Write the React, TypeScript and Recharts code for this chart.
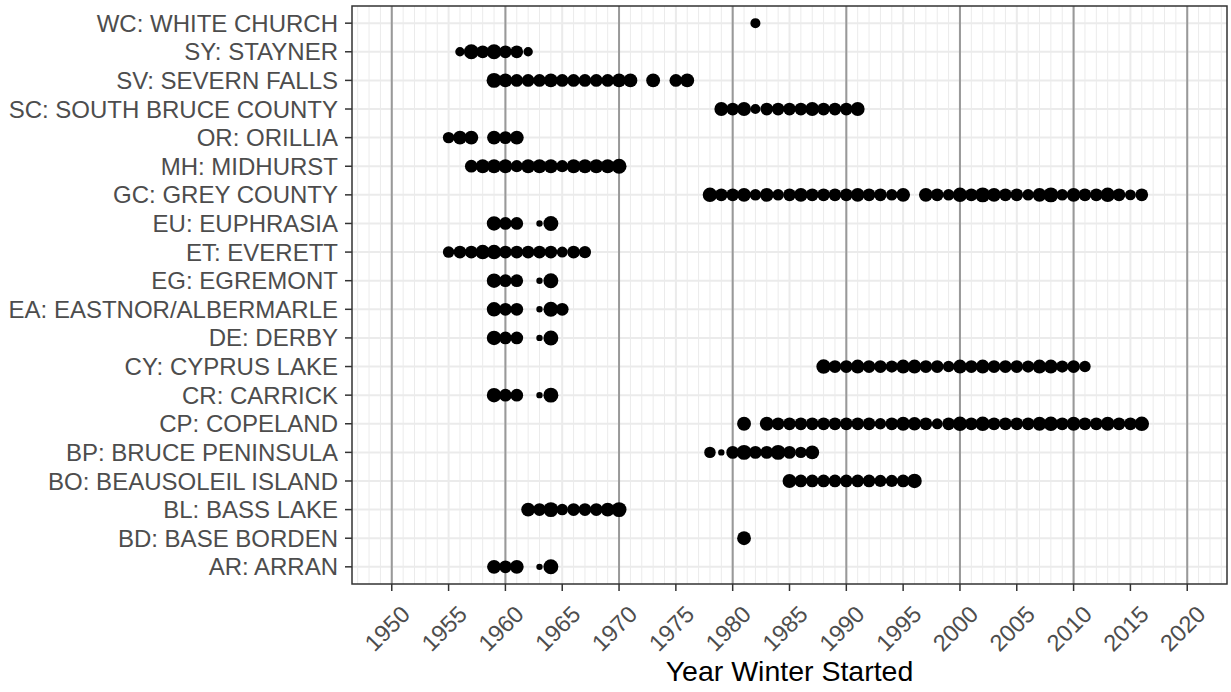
import React from 'react';
import { ScatterChart, Scatter, XAxis, YAxis, ZAxis, CartesianGrid, ReferenceArea, Label } from 'recharts';

// Sites, bottom to top
const SITE_LABELS = [
  'AR: ARRAN',
  'BD: BASE BORDEN',
  'BL: BASS LAKE',
  'BO: BEAUSOLEIL ISLAND',
  'BP: BRUCE PENINSULA',
  'CP: COPELAND',
  'CR: CARRICK',
  'CY: CYPRUS LAKE',
  'DE: DERBY',
  'EA: EASTNOR/ALBERMARLE',
  'EG: EGREMONT',
  'ET: EVERETT',
  'EU: EUPHRASIA',
  'GC: GREY COUNTY',
  'MH: MIDHURST',
  'OR: ORILLIA',
  'SC: SOUTH BRUCE COUNTY',
  'SV: SEVERN FALLS',
  'SY: STAYNER',
  'WC: WHITE CHURCH',
];

// [year winter started, relative point size]
const AR: [number, number][] = [[1959, 3.5], [1960, 3], [1961, 3.5], [1963, 1], [1964, 4]];
const BD: [number, number][] = [[1981, 3.5]];
const BL: [number, number][] = [[1962, 3.5], [1963, 3], [1964, 4], [1965, 2.5], [1966, 3], [1967, 3], [1968, 3], [1969, 3.5], [1970, 4]];
const BO: [number, number][] = [[1985, 3.5], [1986, 3], [1987, 3], [1988, 3], [1989, 3], [1990, 3], [1991, 3], [1992, 3], [1993, 2.8], [1994, 2.8], [1995, 3], [1996, 3.8]];
const BP: [number, number][] = [[1978, 2.5], [1979, 1], [1980, 3], [1981, 4], [1982, 3], [1983, 3], [1984, 4], [1985, 3], [1986, 2.5], [1987, 3.5]];
const CP: [number, number][] = [
  [1981, 3.5], [1983, 3.5], [1984, 3], [1985, 3], [1986, 3], [1987, 3], [1988, 3], [1989, 3], [1990, 3],
  [1991, 3], [1992, 3], [1993, 2.5], [1994, 3], [1995, 3.5], [1996, 3.3], [1997, 3], [1998, 2.3], [1999, 3],
  [2000, 3.8], [2001, 3], [2002, 3.8], [2003, 3], [2004, 3], [2005, 3], [2006, 3], [2007, 3.5], [2008, 3.8],
  [2009, 3], [2010, 3.5], [2011, 3], [2012, 3], [2013, 3.5], [2014, 3], [2015, 3], [2016, 3.8],
];
const CR: [number, number][] = [[1959, 3.8], [1960, 3], [1961, 3], [1963, 1], [1964, 4]];
const CY: [number, number][] = [
  [1988, 3.8], [1989, 3], [1990, 3], [1991, 3.5], [1992, 3], [1993, 3], [1994, 2.8], [1995, 3.5], [1996, 3.5],
  [1997, 3], [1998, 3], [1999, 2.5], [2000, 3.5], [2001, 3], [2002, 3.5], [2003, 3], [2004, 3], [2005, 3],
  [2006, 2.8], [2007, 3.5], [2008, 3.5], [2009, 2.8], [2010, 3], [2011, 2.5],
];
const DE: [number, number][] = [[1959, 3.8], [1960, 3], [1961, 3], [1963, 1], [1964, 4]];
const EA: [number, number][] = [[1959, 3.8], [1960, 3], [1961, 3], [1963, 1], [1964, 4], [1965, 3]];
const EG: [number, number][] = [[1959, 3.8], [1960, 3], [1961, 3], [1963, 1], [1964, 4]];
const ET: [number, number][] = [
  [1955, 2.5], [1956, 3], [1957, 3], [1958, 3.8], [1959, 3.8], [1960, 3], [1961, 3], [1962, 3], [1963, 3],
  [1964, 3], [1965, 2.3], [1966, 3], [1967, 2.8],
];
const EU: [number, number][] = [[1959, 3.8], [1960, 3], [1961, 3], [1963, 1], [1964, 4]];
const GC: [number, number][] = [
  [1978, 3.8], [1979, 3], [1980, 3], [1981, 3.5], [1982, 2.5], [1983, 3.5], [1984, 2.5], [1985, 3], [1986, 3.5],
  [1987, 3], [1988, 3], [1989, 3], [1990, 3], [1991, 3.5], [1992, 3], [1993, 3], [1994, 2.5], [1995, 3.5],
  [1997, 3.5], [1998, 3], [1999, 2.5], [2000, 3.8], [2001, 3], [2002, 4], [2003, 3.5], [2004, 3], [2005, 3],
  [2006, 2.5], [2007, 3.5], [2008, 4], [2009, 2.5], [2010, 3.5], [2011, 3], [2012, 3], [2013, 3.8], [2014, 3],
  [2015, 2.3], [2016, 3],
];
const MH: [number, number][] = [
  [1957, 3], [1958, 3.5], [1959, 3.5], [1960, 3.5], [1961, 2.8], [1962, 3.5], [1963, 3.5], [1964, 3.5],
  [1965, 2.8], [1966, 3.5], [1967, 3.5], [1968, 3.5], [1969, 3.5], [1970, 4],
];
const OR: [number, number][] = [[1955, 2.5], [1956, 3.5], [1957, 3.5], [1959, 3.5], [1960, 3], [1961, 3.5]];
const SC: [number, number][] = [
  [1979, 3.5], [1980, 3], [1981, 3.5], [1982, 2], [1983, 3], [1984, 3], [1985, 3], [1986, 3], [1987, 3.5],
  [1988, 3], [1989, 3], [1990, 3], [1991, 3.5],
];
const SV: [number, number][] = [
  [1959, 4], [1960, 3.5], [1961, 3], [1962, 3], [1963, 3], [1964, 3.5], [1965, 3], [1966, 3], [1967, 3],
  [1968, 3], [1969, 3], [1970, 3.5], [1971, 3.5], [1973, 3.5], [1975, 3], [1976, 3.5],
];
const SY: [number, number][] = [[1956, 1.8], [1957, 4], [1958, 3], [1959, 4], [1960, 3], [1961, 3], [1962, 1.8]];
const WC: [number, number][] = [[1982, 2]];

const SITE_POINTS = [AR, BD, BL, BO, BP, CP, CR, CY, DE, EA, EG, ET, EU, GC, MH, OR, SC, SV, SY, WC];

const X_TICKS = [1950, 1955, 1960, 1965, 1970, 1975, 1980, 1985, 1990, 1995, 2000, 2005, 2010, 2015, 2020];
const DECADES = [1950, 1960, 1970, 1980, 1990, 2000, 2010, 2020];
const X_DOMAIN: [number, number] = [1946.5, 2023.5];
const MINOR_YEARS: number[] = [];
for (let yr = 1947; yr <= 2023; yr++) MINOR_YEARS.push(yr);
const SITE_TICKS = SITE_LABELS.map((_, i) => i + 1);

const data = SITE_POINTS.flatMap((pts, i) => pts.map(([year, n]) => ({ year, site: i + 1, n })));

const FONT = '"Liberation Sans", Arial, Helvetica, sans-serif';

export default function App() {
  return (
    <div style={{ position: 'absolute', left: 0, top: 0, width: 1231, height: 692, background: '#fff', fontFamily: FONT }}>
      <ScatterChart width={1231} height={692} margin={{ top: 6, right: 4, bottom: 0, left: 0 }}>
        <CartesianGrid horizontal={false} verticalValues={MINOR_YEARS} stroke="#EBEBEB" strokeWidth={1} />
        <CartesianGrid horizontal={false} verticalValues={X_TICKS} stroke="#EBEBEB" strokeWidth={2} />
        <CartesianGrid vertical={false} horizontalValues={SITE_TICKS} stroke="#EBEBEB" strokeWidth={2} />
        <CartesianGrid horizontal={false} verticalValues={DECADES} stroke="#999999" strokeWidth={2} />
        <XAxis
          type="number"
          dataKey="year"
          domain={X_DOMAIN}
          allowDataOverflow
          ticks={X_TICKS}
          interval={0}
          height={108}
          tickSize={7}
          tickMargin={13}
          axisLine={false}
          tickLine={{ stroke: '#333333', strokeWidth: 1.5 }}
          tick={{ angle: -45, textAnchor: 'end', fill: '#4D4D4D', fontSize: 23.5, fontFamily: FONT, dx: 8 }}
        >
          <Label value="Year Winter Started" position="insideBottom" offset={11} fill="#000000" fontSize={28.5} fontFamily={FONT} />
        </XAxis>
        <YAxis
          type="number"
          dataKey="site"
          domain={[0.4, 20.6]}
          allowDataOverflow
          ticks={SITE_TICKS}
          interval={0}
          width={352}
          tickSize={7}
          tickMargin={7}
          axisLine={false}
          tickLine={{ stroke: '#333333', strokeWidth: 1.5 }}
          tick={{ fill: '#4D4D4D', fontSize: 24, fontFamily: FONT }}
          tickFormatter={(v: number) => SITE_LABELS[v - 1]}
        />
        <ZAxis type="number" dataKey="n" domain={[1, 4]} range={[32, 175]} />
        <Scatter data={data} fill="#000000" isAnimationActive={false} />
        <ReferenceArea
          x1={X_DOMAIN[0]}
          x2={X_DOMAIN[1]}
          y1={0.4}
          y2={20.6}
          fill="none"
          fillOpacity={0}
          stroke="#333333"
          strokeWidth={1.5}
          ifOverflow="visible"
        />
      </ScatterChart>
    </div>
  );
}
